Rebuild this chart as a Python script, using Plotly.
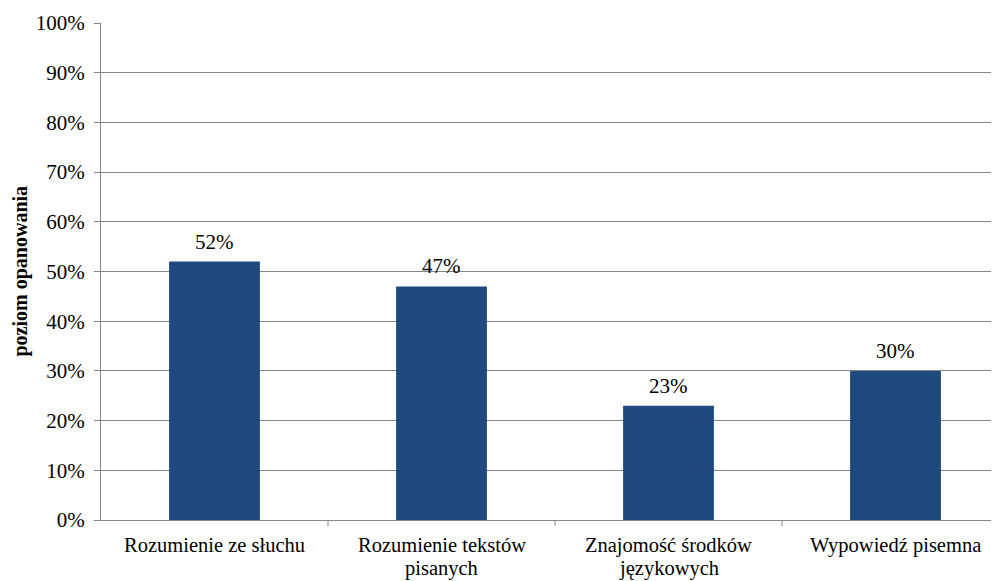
import plotly.graph_objects as go

categories = ["Rozumienie ze słuchu", "Rozumienie tekstów<br>pisanych",
              "Znajomość środków<br>językowych", "Wypowiedź pisemna"]
values = [0.52, 0.47, 0.23, 0.30]
labels = ["52%", "47%", "23%", "30%"]
y_ticks = [i / 10 for i in range(11)]
y_tick_labels = [f"{i*10}%" for i in range(11)]
y_title = "poziom opanowania"

font_family = "Liberation Serif"
FS = 21
PLOT_W = 898

fig = go.Figure()
fig.add_trace(go.Bar(
    x=list(range(len(categories))), y=values, width=0.4,
    marker=dict(color="#1F497D", line=dict(width=0)),
    hoverinfo="skip",
))
for i, (v, t) in enumerate(zip(values, labels)):
    fig.add_annotation(x=i, y=v, text=t, showarrow=False, yanchor="bottom",
                       yshift=6, font=dict(family=font_family, size=FS, color="#000"))

# category labels (tight line spacing like the reference)
for i, cat in enumerate(categories):
    for j, line in enumerate(cat.split("<br>")):
        fig.add_annotation(x=i, xref="x", y=0, yref="paper", text=line,
                           showarrow=False, xanchor="center", yanchor="middle",
                           yshift=-25 - 23 * j,
                           font=dict(family=font_family, size=20.5, color="#000"))

fig.add_annotation(xref="paper", yref="paper", x=(20 - 101) / PLOT_W, y=0.5,
                   text=f"<b>{y_title}</b>", textangle=-90, showarrow=False,
                   xanchor="center", yanchor="middle",
                   font=dict(family=font_family, size=20, color="#000"))

fig.update_layout(
    width=991, height=573,
    margin=dict(l=93, r=0, t=15, b=61, autoexpand=False),
    paper_bgcolor="white", plot_bgcolor="white",
    showlegend=False,
    font=dict(family=font_family, size=FS, color="#000"),
)
fig.update_xaxes(
    type="linear", range=[-0.5, -0.5 + PLOT_W / 227],
    showticklabels=False,
    showgrid=False, showline=True, linecolor="#868686", linewidth=1,
    ticks="", zeroline=False, automargin=False,
)
# boundary tick marks between categories
for b in [0.5, 1.5, 2.5]:
    fig.add_shape(type="line", xref="x", yref="paper", x0=b, x1=b, y0=0, y1=-0.012,
                  line=dict(color="#868686", width=1))
fig.update_yaxes(
    range=[0, 1], tickvals=y_ticks, ticktext=y_tick_labels,
    showgrid=True, gridcolor="#868686", gridwidth=1,
    showline=True, linecolor="#868686", linewidth=1,
    ticks="outside", ticklen=6, tickcolor="#868686",
    zeroline=False, automargin=False, ticklabelstandoff=5,
    tickfont=dict(family=font_family, size=FS, color="#000"),
)

fig.write_html("out.html")
